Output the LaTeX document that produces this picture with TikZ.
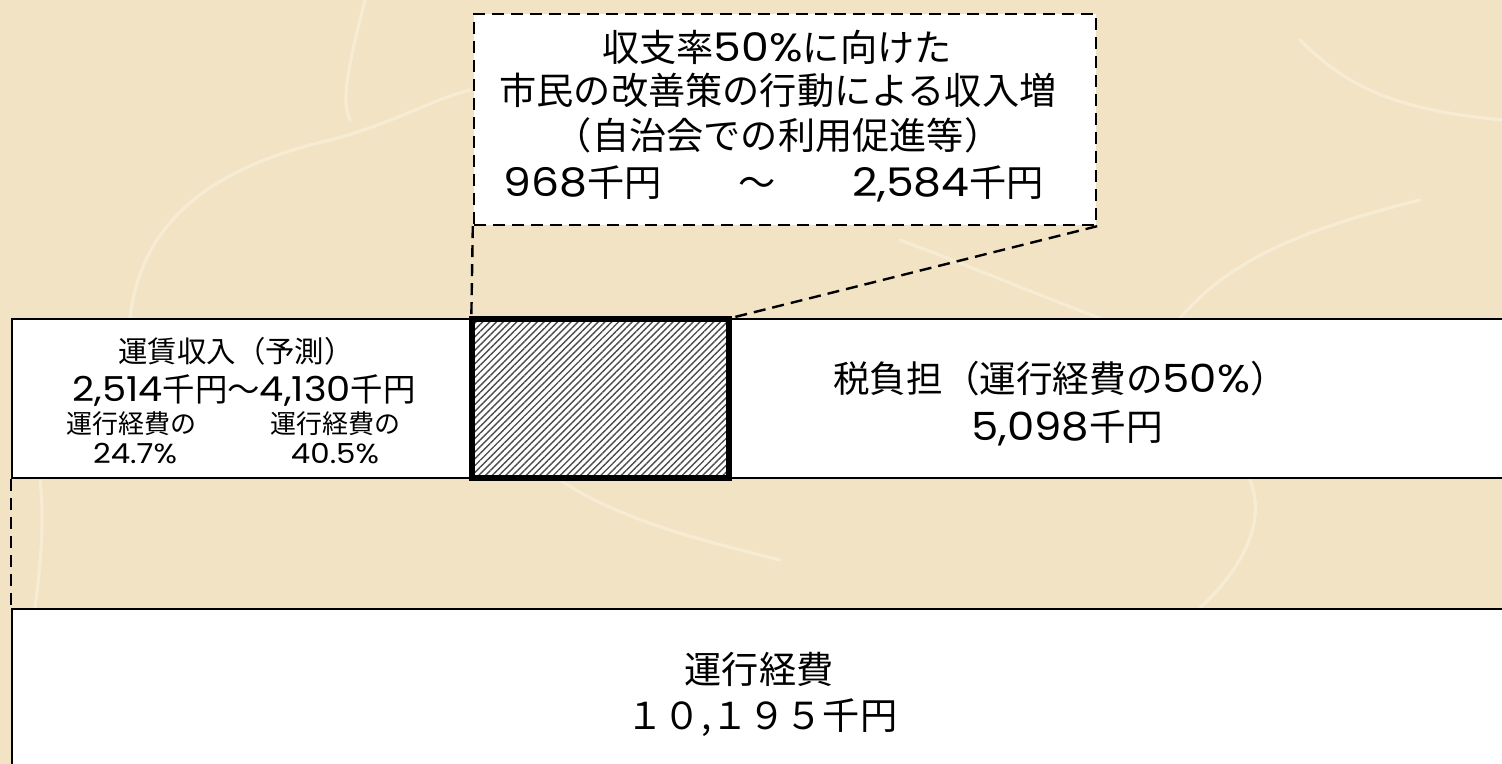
\documentclass[tikz,border=0pt]{standalone}
\usepackage{fontspec}
\setmainfont{Noto Sans CJK JP}
\newfontfamily\lat[Scale=1.06, FakeStretch=1.12]{Poppins}
\usetikzlibrary{patterns.meta}
\definecolor{paper}{RGB}{241,227,196}
\definecolor{fiber}{RGB}{249,240,220}
\tikzset{
  box/.style={draw=black, line width=1.2pt, fill=white, inner sep=0pt},
  hatchbox/.style={draw=black, line width=2.8pt, inner sep=0pt,
    preaction={fill=white},
    pattern={Lines[angle=45,distance=2.4pt,line width=0.7pt]}, pattern color=black!70},
  dashbox/.style={draw=black, line width=1.2pt, dash pattern=on 6pt off 3.5pt, fill=white, inner sep=0pt},
  dashline/.style={draw=black, line width=1.2pt, dash pattern=on 6pt off 3.5pt},
  txtbase/.style={inner sep=0pt, text height=0.82em, text depth=0.16em},
  bigtxt/.style={txtbase, font=\fontsize{18.6pt}{22pt}\selectfont},
  midtxt/.style={txtbase, font=\fontsize{14.7pt}{18pt}\selectfont},
  midbtxt/.style={txtbase, font=\fontsize{16.2pt}{18pt}\selectfont},
  smalltxt/.style={txtbase, font=\fontsize{13pt}{16pt}\selectfont},
  taxtxt/.style={txtbase, font=\fontsize{18.3pt}{22pt}\selectfont},
  fiberline/.style={draw=fiber, line width=1.6pt, opacity=0.7, line cap=round}
}
\begin{document}
\begin{tikzpicture}[x=0.5pt,y=-0.5pt]
\useasboundingbox (0,0) rectangle (1502,764);
\fill[paper] (0,0) rectangle (1502,764);
% paper fibres
\begin{scope}
\clip (0,0) rectangle (1502,764);
\draw[fiberline] (130,318) .. controls (140,230) and (200,170) .. (330,140) .. controls (390,125) and (430,100) .. (470,90);
\draw[fiberline] (365,0) .. controls (350,60) and (340,100) .. (350,120);
\draw[fiberline] (40,480) .. controls (45,520) and (40,570) .. (35,608);
\draw[fiberline] (1180,318) .. controls (1230,260) and (1300,230) .. (1420,200);
\draw[fiberline] (1250,480) .. controls (1270,530) and (1230,580) .. (1200,608);
\draw[fiberline] (560,480) .. controls (620,520) and (700,540) .. (780,560);
\draw[fiberline] (900,240) .. controls (980,270) and (1050,300) .. (1100,318);
\draw[fiberline] (1300,40) .. controls (1350,90) and (1400,110) .. (1502,120);
\end{scope}
% boxes
\node[dashbox, minimum width=311pt, minimum height=105.5pt] (goal) at (785,119.5) {};
\node[box, minimum width=230pt, minimum height=79.5pt] (fare) at (242,398.5) {};
\node[box, minimum width=393pt, minimum height=79.5pt] (tax) at (1122,398.5) {};
\node[box, minimum width=751.5pt, minimum height=83pt] (cost) at (763.5,692) {};
\node[hatchbox, minimum width=128.5pt, minimum height=79.5pt] (gap) at (600.5,398.5) {};
% connectors
\draw[dashline] (goal.south west) -- (gap.north west);
\draw[dashline] (goal.south east) -- (gap.north east);
\draw[dashline] (fare.south west) -- (cost.north west);
% top text
\node[bigtxt] (g1) at (777,55) {収支率{\lat 50\%}に向けた};
\node[bigtxt] (g2) at (778,98) {市民の改善策の行動による収入増};
\node[bigtxt] (g3) at (778,143) {（自治会での利用促進等）};
\node[bigtxt] (g4a) at (583,190) {{\lat 968}千円};
\node[bigtxt] (g4b) at (757,190) {～};
\node[bigtxt] (g4c) at (948,190) {{\lat 2,584}千円};
% fare text
\node[midtxt] (f1) at (236,356) {運賃収入（予測）};
\node[midbtxt] (f2) at (244,395) {{\lat 2,514}千円～{\lat 4,130}千円};
\node[smalltxt] (f3) at (131,427) {運行経費の};
\node[smalltxt] (f4) at (135,457) {\lat 24.7\%};
\node[smalltxt] (f5) at (335,427) {運行経費の};
\node[smalltxt] (f6) at (335,457) {\lat 40.5\%};
% tax text
\node[taxtxt] (t1) at (1060,386) {税負担（運行経費の{\lat 50\%}）};
\node[taxtxt] (t2) at (1067,434) {{\lat 5,098}千円};
% cost text
\node[bigtxt] (c1) at (759,677) {運行経費};
\node[bigtxt] (c2) at (762,723) {１０,１９５千円};
\end{tikzpicture}
\end{document}
